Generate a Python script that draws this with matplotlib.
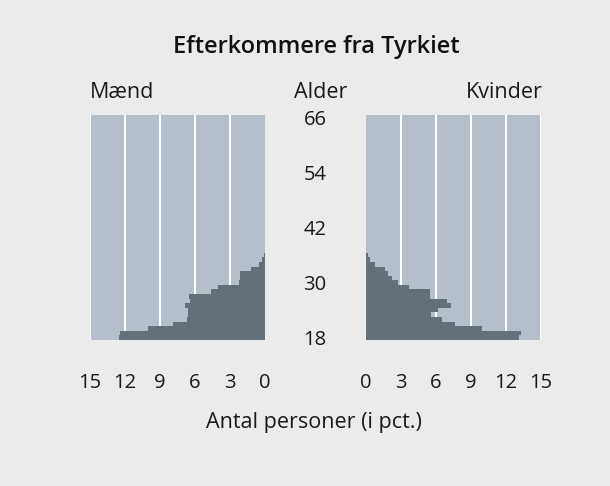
import matplotlib.pyplot as plt
from matplotlib.transforms import blended_transform_factory

# ages 18..66, one bar per year (share of persons in pct.)
ages = list(range(18, 67))
maend = [12.5, 12.4, 10.0, 7.9, 6.7, 6.6, 6.6, 6.85, 6.4, 6.5,
         4.6, 4.0, 2.2, 2.15, 2.15, 1.2, 0.5, 0.26, 0.09] + [0] * 30
kvinder = [13.1, 13.3, 9.96, 7.6, 6.5, 5.6, 6.2, 7.3, 6.95, 5.5,
           5.5, 3.7, 2.7, 2.25, 1.9, 1.65, 0.8, 0.3, 0.2] + [0] * 30

x_ticks = [0, 3, 6, 9, 12, 15]
age_ticks = [18, 30, 42, 54, 66]

BG = "#EBEBEB"
PANEL = "#B4BFCB"
BAR = "#637079"
TXT = "#1A1A1A"
FONT = "Open Sans"


def setup_panel(ax, reverse):
    ax.set_facecolor(PANEL)
    for s in ax.spines.values():
        s.set_visible(False)
    for g in [3, 6, 9, 12, 15]:
        ax.axvline(g, color="white", lw=1.5, zorder=1)
    ax.set_ylim(18, 67)
    if reverse:
        ax.set_xlim(15, 0)
    else:
        ax.set_xlim(0, 15)
    ax.set_yticks([])
    ax.set_xticks(x_ticks)
    ax.set_xticklabels([str(t) for t in x_ticks], fontsize=14.5,
                       family=FONT, color=TXT)
    ax.tick_params(axis="x", length=0, pad=24)


def main():
    fig = plt.figure(figsize=(6.1, 4.86), dpi=100, facecolor=BG)
    ax_l = fig.add_axes([90 / 610, 146 / 486, 175 / 610, 225 / 486])
    ax_r = fig.add_axes([366 / 610, 146 / 486, 175 / 610, 225 / 486])

    setup_panel(ax_l, True)
    setup_panel(ax_r, False)
    ax_l.barh(ages, maend, height=1, align="edge", color=BAR, zorder=2)
    ax_r.barh(ages, kvinder, height=1, align="edge", color=BAR, zorder=2)

    # age labels in the middle column
    tr = blended_transform_factory(fig.transFigure, ax_l.transData)
    for a in age_ticks:
        fig.text(315 / 610, a, str(a), transform=tr, ha="center",
                 va="center", fontsize=14.5, family=FONT, color=TXT)

    fig.text(316 / 610, 1 - 47 / 486, "Efterkommere fra Tyrkiet",
             ha="center", va="center", fontsize=17, family=FONT,
             weight="semibold", color="#111111")
    fig.text(90 / 610, 1 - 97.5 / 486, "Mænd", ha="left", va="baseline",
             fontsize=15.5, family=FONT, color=TXT)
    fig.text(321 / 610, 1 - 97.5 / 486, "Alder", ha="center",
             va="baseline", fontsize=15.5, family=FONT, color=TXT)
    fig.text(543 / 610, 1 - 97.5 / 486, "Kvinder", ha="right",
             va="baseline", fontsize=15.5, family=FONT, color=TXT)
    fig.text(314 / 610, 1 - 428 / 486, "Antal personer (i pct.)",
             ha="center", va="baseline", fontsize=15.5, family=FONT,
             color=TXT)

    fig.savefig("out.png", dpi=100, facecolor=BG)


if __name__ == "__main__":
    main()
